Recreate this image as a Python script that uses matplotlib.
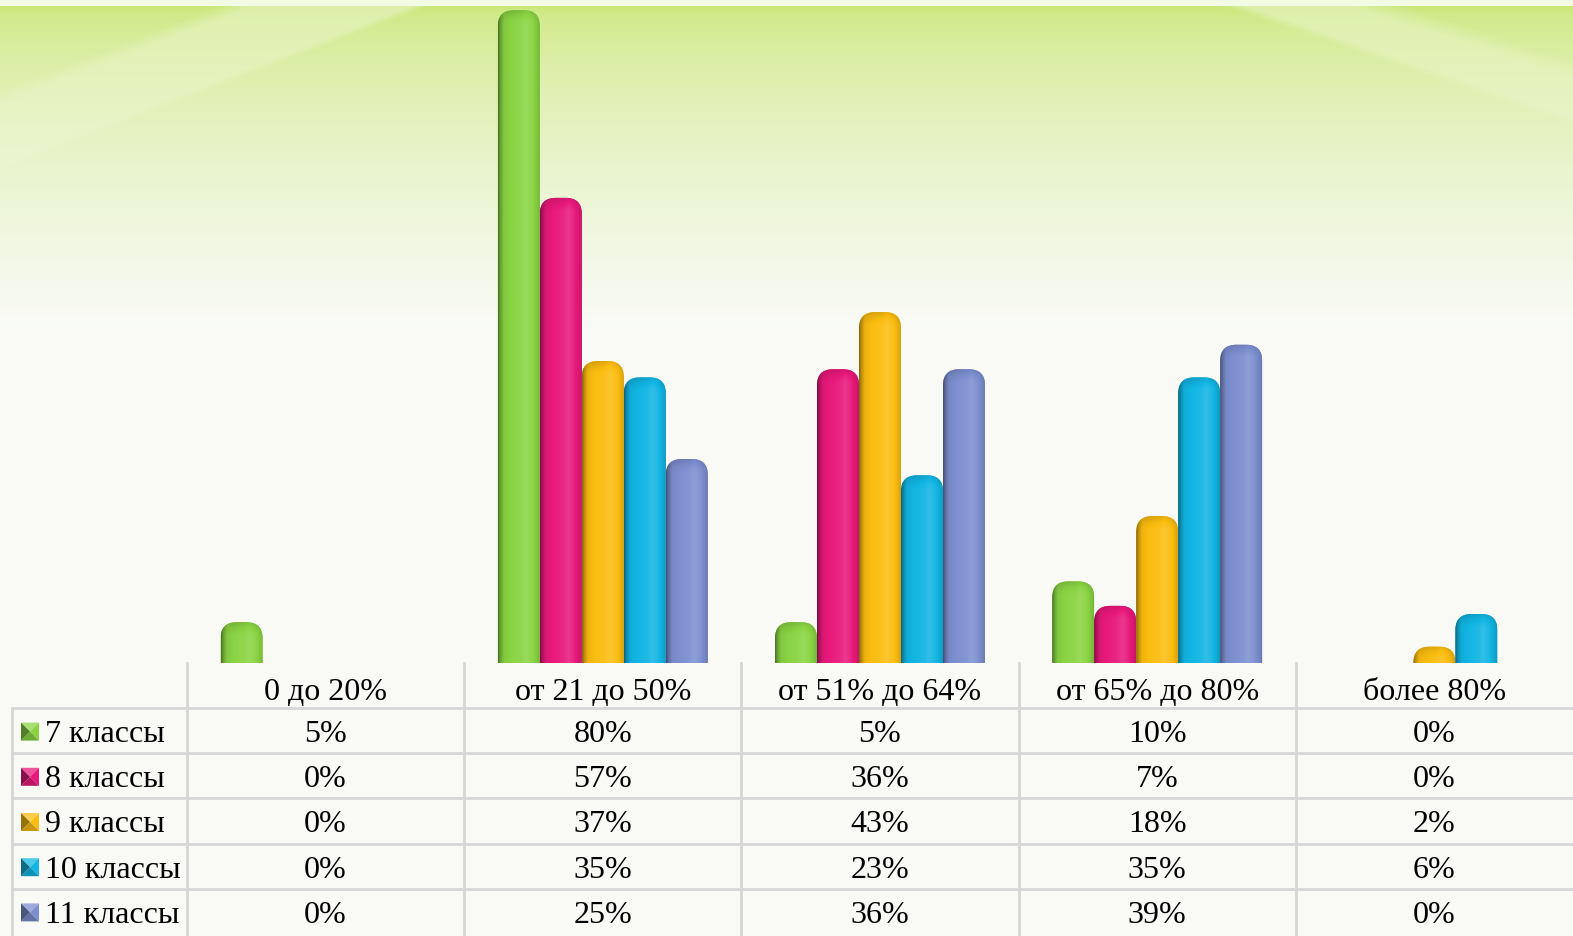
import numpy as np
import matplotlib
matplotlib.use("Agg")
import matplotlib.pyplot as plt
from matplotlib.patches import FancyBboxPatch, Polygon
from matplotlib import transforms

categories = ["0 до 20%", "от 21 до 50%", "от 51% до 64%", "от 65% до 80%", "более 80%"]
series_names = ["7 классы", "8 классы", "9 классы", "10 классы", "11 классы"]
grade7 = [5, 80, 5, 10, 0]
grade8 = [0, 57, 36, 7, 0]
grade9 = [0, 37, 43, 18, 2]
grade10 = [0, 35, 23, 35, 6]
grade11 = [0, 25, 36, 39, 0]
series_values = [grade7, grade8, grade9, grade10, grade11]
colors = ["#8ad443", "#e8197a", "#fbbd10", "#12b5e3", "#7d8fd0"]

W, H = 1573, 936
DPI = 100
plt.rcParams['font.family'] = ['Liberation Serif', 'DejaVu Serif']
fig = plt.figure(figsize=(W / DPI, H / DPI), dpi=DPI)

# ---------------- background ----------------
bg = fig.add_axes([0, 0, 1, 1], zorder=-5)
bg.set_axis_off()
yy, xx = np.mgrid[0:H, 0:W].astype(float)
top = np.array([0.80, 0.91, 0.49])
bot = np.array([0.978, 0.982, 0.968])
t = np.clip((yy - 8) / 320.0, 0, 1) ** 0.6
img = top[None, None, :] * (1 - t[..., None]) + bot[None, None, :] * t[..., None]


def side(x0, y0, x1, y1):
    return (xx - x0) * (y1 - y0) - (yy - y0) * (x1 - x0)


s1 = side(0, 90, 220, 5)
s2 = side(0, 170, 430, 5)
m1 = np.clip(-s1 / 3000.0, 0, 1) * np.clip(s2 / 3000.0, 0, 1)
r1 = side(1220, 5, 1573, 125)
r2 = side(1400, 5, 1573, 60)
m2 = np.clip(r1 / 3000.0, 0, 1) * np.clip(-r2 / 3000.0, 0, 1)
m = np.maximum(m1, m2) * 0.4 * (1 - t)
img = img * (1 - m[..., None]) + np.array([0.97, 0.985, 0.93])[None, None, :] * m[..., None]
img[:6] = np.array([0.96, 0.985, 0.90])
bg.imshow(img, extent=[0, W, H, 0], aspect='auto', interpolation='bilinear')
bg.set_xlim(0, W)
bg.set_ylim(H, 0)

# ---------------- main bar axes ----------------
ax_left, ax_bottom_px, ax_top_px = 187, 663, 0
ax = fig.add_axes([ax_left / W, (H - ax_bottom_px) / H, (W - ax_left) / W,
                   (ax_bottom_px - ax_top_px) / H])
ax.patch.set_alpha(0)
for sp in ax.spines.values():
    sp.set_visible(False)
ax.set_xticks([])
ax.set_yticks([])
ax.set_xlim(-0.5, len(categories) - 0.5)
ax.set_ylim(0, 81.25)

n = len(series_values)
bw = 42 / 277.2
x = np.arange(len(categories))

px_per_x = 277.2
px_per_y = 663 / 81.25
cap_px = 16
r_x = cap_px / px_per_x
aspect = (1 / px_per_y) / (1 / px_per_x)


def shade_img(color, h_data, npts=64):
    c = np.array(matplotlib.colors.to_rgb(color))
    u = np.linspace(0, 1, npts)
    f = np.interp(u, [0, 0.05, 0.14, 0.3, 0.55, 0.68, 0.82, 0.94, 1.0],
                  [0.55, 0.75, 0.95, 1.0, 1.04, 1.09, 1.03, 0.93, 0.86])
    ny = max(int(h_data * px_per_y), 2)
    d = np.arange(ny)[:, None] + 0.5          # pixel distance from top
    g = 1 - 0.16 * np.clip(1 - d / cap_px, 0, 1) ** 2
    ff = f[None, :] * g
    out = np.empty((ny, npts, 3))
    low = ff <= 1
    k = np.clip((ff - 1) * 1.5, 0, 1)
    out[:] = np.where(low[..., None], c[None, None, :] * ff[..., None],
                      c[None, None, :] * (1 - k[..., None]) + k[..., None])
    return np.clip(out, 0, 1)


for i, (vals, col) in enumerate(zip(series_values, colors)):
    bars = ax.bar(x + (i - (n - 1) / 2) * bw, vals, bw, color=col, visible=False)
    for rect, v in zip(bars, vals):
        if v <= 0:
            continue
        x0 = rect.get_x()
        w = rect.get_width()
        h = rect.get_height()
        patch = FancyBboxPatch((x0, -3), w, h + 3,
                               boxstyle=f"round,pad=0,rounding_size={r_x}",
                               mutation_aspect=aspect, facecolor=col,
                               edgecolor='none', zorder=2)
        ax.add_patch(patch)
        im = ax.imshow(shade_img(col, h), extent=[x0, x0 + w, 0, h], aspect='auto',
                       origin='upper', interpolation='bilinear', zorder=3)
        im.set_clip_path(patch)

ax.set_xlim(-0.5, len(categories) - 0.5)
ax.set_ylim(0, 81.25)

# ---------------- data table ----------------
tab = fig.add_axes([0, 0, 1, 1], zorder=5)
tab.set_axis_off()
tab.patch.set_alpha(0)
tab.set_xlim(0, W)
tab.set_ylim(H, 0)
mix = transforms.blended_transform_factory(ax.transData, tab.transData)

grid_c = "#d6d6d6"
lw = 2.0
row_h = 45.2
header_top, header_bot = 663, 708
label_left = 12
for k in range(len(series_names)):
    yline = header_bot + k * row_h
    tab.plot([label_left, W], [yline, yline], color=grid_c, lw=lw, solid_capstyle='butt')
for j in range(len(categories)):
    tab.plot([j - 0.5, j - 0.5], [header_top, H], color=grid_c, lw=lw, transform=mix)
tab.plot([label_left, label_left], [header_bot, H], color=grid_c, lw=lw)

fs = 23
for j, cat in enumerate(categories):
    tab.text(j, 692, cat, transform=mix, ha='center', va='center', fontsize=fs, color='black')

for i, (name, vals, col) in enumerate(zip(series_names, series_values, colors)):
    yc = header_bot + (i + 0.5) * row_h
    c = np.array(matplotlib.colors.to_rgb(col))
    x0m, x1m = 21, 39
    y0m, y1m = yc - 8, yc + 10
    cx, cy = (x0m + x1m) / 2, (y0m + y1m) / 2
    tab.add_patch(Polygon([[x0m, y0m], [x1m, y0m], [cx, cy]], closed=True,
                          facecolor=np.clip(c * 0.75 + 0.25, 0, 1), edgecolor='none'))
    tab.add_patch(Polygon([[x1m, y0m], [x1m, y1m], [cx, cy]], closed=True,
                          facecolor=c, edgecolor='none'))
    tab.add_patch(Polygon([[x0m, y1m], [x1m, y1m], [cx, cy]], closed=True,
                          facecolor=c * 0.8, edgecolor='none'))
    tab.add_patch(Polygon([[x0m, y0m], [x0m, y1m], [cx, cy]], closed=True,
                          facecolor=c * 0.6, edgecolor='none'))
    tab.text(45, yc + 4, name, ha='left', va='center', fontsize=fs, color='black')
    for j, v in enumerate(vals):
        tab.text(j, yc + 4, f"{v}%", transform=mix, ha='center', va='center',
                 fontsize=fs, color='black')

fig.savefig("out.png", dpi=DPI)
